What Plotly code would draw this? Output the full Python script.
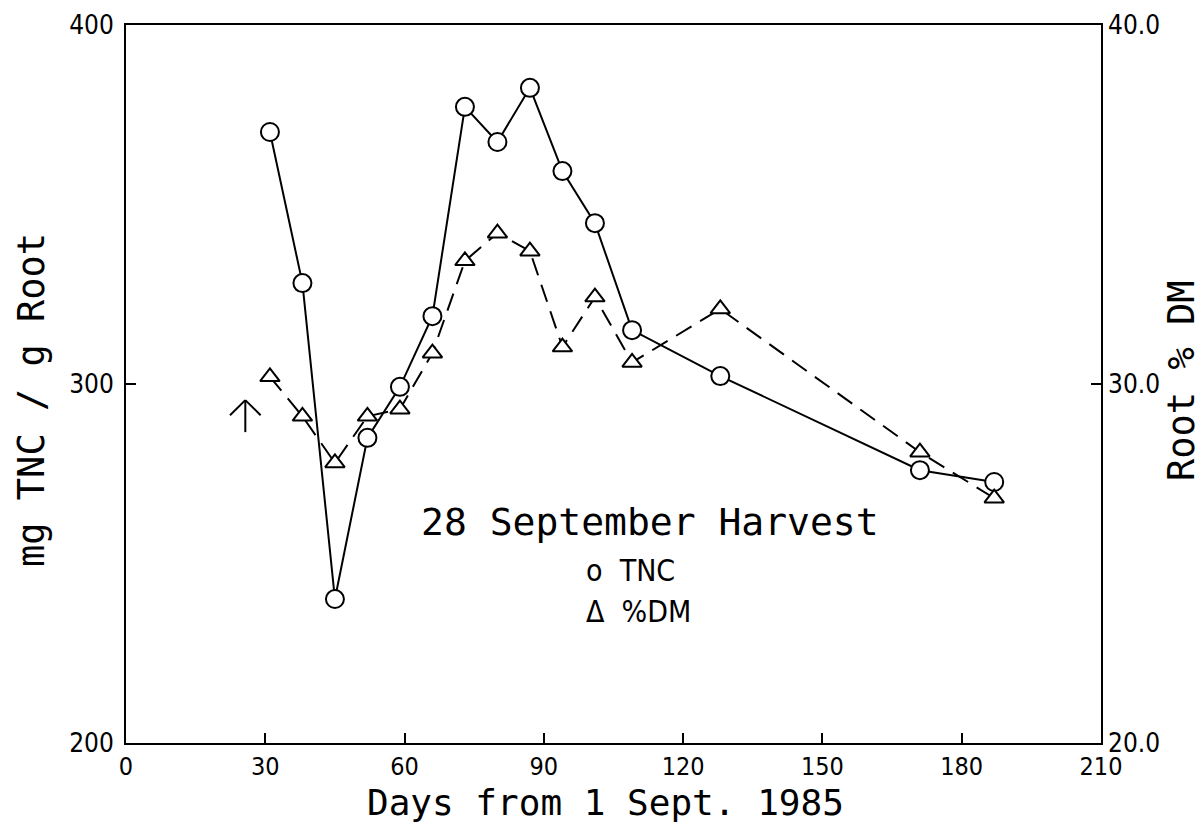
import plotly.graph_objects as go

# ---- data ----
days = [31, 38, 45, 52, 59, 66, 73, 80, 87, 94, 101, 109, 128, 171, 187]
tnc = [370.2, 328.1, 240.1, 285.0, 299.2, 318.9, 377.2, 367.4, 382.5, 359.3, 344.8, 315.0, 302.2, 276.0, 272.7]
dm = [30.2, 29.1, 27.8, 29.1, 29.3, 30.86, 33.43, 34.2, 33.7, 31.03, 32.42, 30.6, 32.09, 28.1, 26.82]

x_ticks = [0, 30, 60, 90, 120, 150, 180, 210]
y_left_ticks = [200, 300, 400]
y_right_ticks = [20.0, 30.0, 40.0]

arrow_day = 25.7
arrow_top = 295.5
arrow_bottom = 286.6

NARROW = "DejaVu Sans Condensed, Liberation Sans Narrow, Arial Narrow, sans-serif"
MONO = "DejaVu Sans Mono, monospace"
TICKFONT = dict(family=NARROW, size=26, color="black")
TITLEFONT = dict(family=MONO, size=37, color="black")

fig = go.Figure()

fig.add_trace(go.Scatter(
    x=days, y=dm, yaxis="y2", mode="lines+markers", name="%DM",
    line=dict(color="black", width=2, dash="18px,10px"),
    marker=dict(symbol="triangle-up", size=17, color="white", line=dict(color="black", width=2)),
))
fig.add_trace(go.Scatter(
    x=days, y=tnc, mode="lines+markers", name="TNC",
    line=dict(color="black", width=2),
    marker=dict(symbol="circle", size=18, color="white", line=dict(color="black", width=2)),
))

# arrow marking harvest
fig.add_shape(type="line", xref="x", yref="y", x0=arrow_day, x1=arrow_day, y0=arrow_bottom, y1=arrow_top,
              line=dict(color="black", width=2))
fig.add_shape(type="line", xref="x", yref="y", x0=arrow_day - 3.3, x1=arrow_day, y0=arrow_top - 4.2, y1=arrow_top,
              line=dict(color="black", width=2))
fig.add_shape(type="line", xref="x", yref="y", x0=arrow_day + 3.3, x1=arrow_day, y0=arrow_top - 4.2, y1=arrow_top,
              line=dict(color="black", width=2))

# plot area on screen: x 126..1101, y 25..743 (page has an 8px body offset)
def px_to_paper(px, py):
    return (px - 126) / 975.0, (743 - py) / 718.0

def add_text(px, py, text, font, xanchor="center", textangle=0):
    x, y = px_to_paper(px, py)
    fig.add_annotation(x=x, y=y, xref="paper", yref="paper", text=text, showarrow=False,
                       xanchor=xanchor, yanchor="middle", textangle=textangle, font=font)

add_text(650, 522, "28 September Harvest", dict(family=MONO, size=38, color="black"))
add_text(584, 570, "o\u00a0 TNC", dict(family=NARROW, size=30, color="black"), xanchor="left")
add_text(584, 611, "Δ\u00a0 %DM", dict(family=NARROW, size=30, color="black"), xanchor="left")

# axis titles
add_text(605, 802, "Days from 1 Sept. 1985", dict(family=MONO, size=36, color="black"))
add_text(31, 400, "mg TNC / g Root", TITLEFONT, textangle=-90)
add_text(1182, 381, "Root % DM", TITLEFONT, textangle=-90)

fig.update_layout(
    width=1203, height=825,
    margin=dict(l=118, r=110, t=17, b=90),
    paper_bgcolor="white", plot_bgcolor="white",
    showlegend=False,
    xaxis=dict(
        range=[0, 210], tickvals=x_ticks, ticks="inside", ticklen=10, tickwidth=2, tickcolor="black",
        showline=True, linecolor="black", linewidth=2, mirror=True, showgrid=False, zeroline=False,
        tickfont=dict(TICKFONT, size=25), ticklabelstandoff=0, automargin=False,
    ),
    yaxis=dict(
        range=[200, 400], tickvals=y_left_ticks, ticks="inside", ticklen=10, tickwidth=2, tickcolor="black",
        showline=True, linecolor="black", linewidth=2, mirror=True, showgrid=False, zeroline=False,
        tickfont=TICKFONT, ticklabelstandoff=5, automargin=False,
    ),
    yaxis2=dict(
        range=[20, 40], tickvals=y_right_ticks, tickformat=".1f", overlaying="y", side="right",
        ticks="inside", ticklen=10, tickwidth=2, tickcolor="black",
        showline=False, showgrid=False, zeroline=False,
        tickfont=TICKFONT, ticklabelstandoff=6, automargin=False,
    ),
)

fig.write_html("out.html")
